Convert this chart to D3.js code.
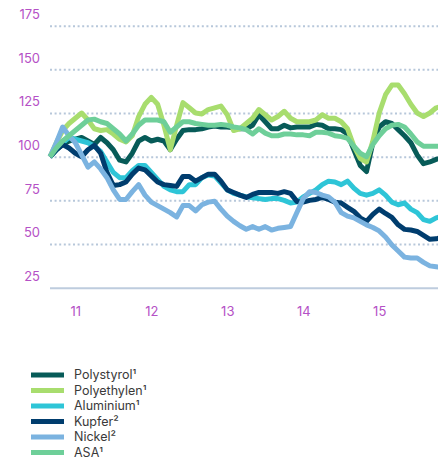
<!DOCTYPE html>
<html>
<head>
<meta charset="utf-8">
<script src="https://cdn.jsdelivr.net/npm/d3@7"></script>
<style>
  body { margin: 0; background: #fff; }
  svg { display: block; font-family: Inter, "Liberation Sans", sans-serif; }
</style>
</head>
<body>
<svg id="chart" width="438" height="461"></svg>
<script>
// monthly index values, first point = Sept 2010 (index 100)
var polystyrol = [100,104,107,109,110,111,109,107,111,108,
  104,98,97,102,109,111,109,110,109,104,
  110,115,115.5,115.5,116,117,117.5,117,117,116.5,
  116,116,118,124,120,116,116,118,116.5,117,
  117,117,118.5,118,116,116,115.5,113,104,95,
  91.5,108,117,120,119,115.5,112,108,101,96,
  97,98.5,99];
var polyethylen = [100,108,115,119,122,125,121,116,115,115.5,
  113,110,108.5,112,123,130,134,130,118,104,
  118,131,128,125,124.5,127,128,129,124,115,
  116,119,122,127,124,121,123,126,122,120,
  120,120,121,124,122,122,120,116,106,99,
  97,109,125,135.5,141,141,136,130,125,123,
  125,128,129];
var aluminium = [100,104,108,111,110,109,108,106,103,97,
  91,88,88,92,95,95,91,87,83,81,
  80,80,84,84,88,89.5,89,85,81,79,
  78,77,76.5,76,75.5,76,76,75,73.5,74,
  77,79,81,84,86,85.5,84,86,82,79,
  78,79,81,78,74,72.5,73.5,70,68,64,
  63,65,66];
var kupfer = [100,104,107,105,102,100,104,106.5,102,91,
  83.5,84,85.5,90,93.5,92.5,89,85.5,84,83.5,
  83,88.7,88.7,86,88,90,90,86,81,79.5,
  78,76.7,78.4,79.5,79.5,79.5,79,80,79,74.4,
  74,75,75.5,76.7,75.5,74,73.5,71,68.7,65,
  63,67,70,67.5,65.3,61,58.4,58,57.2,55,
  52.7,53,54];
var nickel = [100,108,117,112,108,101,94,97,93,88,
  81,75.5,75.5,80,84,78,74,72,70,68,
  65.5,72,72,69,72.5,74,74.5,70,66,63,
  60.5,58.5,60,58.5,60,58,59,59.5,60,68,
  76,80,79.5,78,77,74,68,66,65,63,
  61,59.5,57.5,54,49.5,46,42.5,42,42,39.5,
  37.5,37,36.5];
var asa = [100,105,109,112,115,118,121,121.5,120,119,
  116,113,109,113,118,121,121,121,120,114,
  117,120,120,119,118.5,118,118,118.5,118,117,
  116.5,115.5,113,116,113.5,112,112,113,113,112.5,
  112.5,112,114,114,113.5,112,111.5,110.5,106,102,
  100,107,112,116,118,118.5,117,113,108.5,106,
  106,106,106];

var seriesNames = ["Polystyrol\u00b9", "Polyethylen\u00b9", "Aluminium\u00b9", "Kupfer\u00b2", "Nickel\u00b2", "ASA\u00b9"];
var seriesColors = ["#075b58", "#a8dd6e", "#2ec5d7", "#003d6e", "#7bb3e0", "#6ecf99"];
var seriesValues = [polystyrol, polyethylen, aluminium, kupfer, nickel, asa];

var yTicks = [25, 50, 75, 100, 125, 150, 175];
var xTickIndex = [4, 16, 28, 40, 52];   // January of each year
var xTickLabels = ["11", "12", "13", "14", "15"];

var labelColor = "#b551c6",
    gridColor = "#b7c7da";

var svg = d3.select("#chart");

var x = d3.scaleLinear().domain([0, 62]).range([50, 442.5]);
var y = d3.scaleLinear().domain([25, 175]).range([287.7, 25.7]);

//y grid + labels
var yAxis = svg.append("g")
  .attr("transform", "translate(50,0)")
  .call(d3.axisLeft(y).tickValues(yTicks).tickSize(-400).tickPadding(0));
yAxis.select(".domain").remove();
yAxis.selectAll(".tick line")
  .attr("stroke", gridColor)
  .attr("stroke-width", 2)
  .attr("stroke-dasharray", function(d) { return d === 25 ? null : "2,2.6"; })
  .attr("opacity", function(d) { return d === 25 ? 0.9 : 1; });
yAxis.selectAll(".tick text")
  .attr("x", -10)
  .attr("dy", "-0.55em")
  .attr("fill", labelColor)
  .style("font-size", "13px")
  .style("font-family", "Inter, sans-serif");

//x labels
var xAxis = svg.append("g")
  .attr("transform", "translate(0,288)")
  .call(d3.axisBottom(x).tickValues(xTickIndex)
    .tickFormat(function(d, i) { return xTickLabels[i]; })
    .tickSize(0).tickPadding(19));
xAxis.select(".domain").remove();
xAxis.selectAll(".tick text")
  .attr("fill", labelColor)
  .style("font-size", "13px")
  .style("font-family", "Inter, sans-serif");

//lines
svg.append("clipPath").attr("id", "clip")
  .append("rect").attr("x", 47).attr("y", 0).attr("width", 391).attr("height", 300);

var line = d3.line()
  .x(function(d, i) { return x(i); })
  .y(function(d) { return y(d); });

svg.append("g").attr("clip-path", "url(#clip)")
  .selectAll("path").data(seriesValues)
  .enter().append("path")
  .attr("d", line)
  .attr("fill", "none")
  .attr("stroke", function(d, i) { return seriesColors[i]; })
  .attr("stroke-width", 5)
  .attr("stroke-linejoin", "round");

//legend
var legend = svg.append("g").selectAll("g").data(seriesNames)
  .enter().append("g")
  .attr("transform", function(d, i) { return "translate(31," + (375 + i * 15.5) + ")"; });
legend.append("rect")
  .attr("x", 0).attr("y", -2.5).attr("width", 33).attr("height", 5)
  .attr("fill", function(d, i) { return seriesColors[i]; });
legend.append("text")
  .attr("x", 43).attr("dy", "0.35em")
  .attr("fill", "#3a3a3a")
  .style("font-size", "12.5px")
  .text(function(d) { return d; });
</script>
</body>
</html>
